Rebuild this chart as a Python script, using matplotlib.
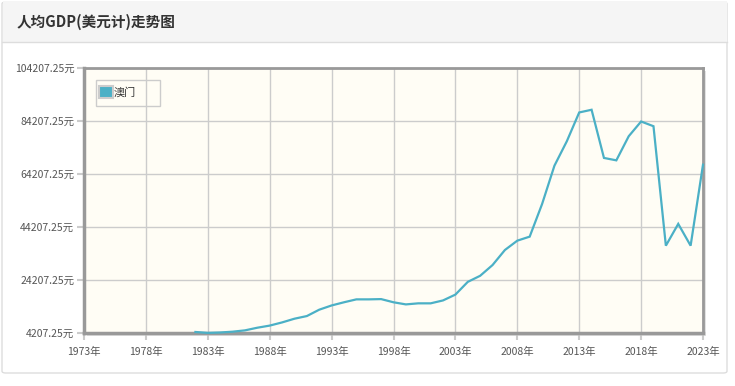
import matplotlib
matplotlib.use("Agg")
import matplotlib.pyplot as plt
from matplotlib.patches import Rectangle, FancyBboxPatch, Patch

plt.rcParams['font.family'] = ['Noto Sans CJK SC', 'DejaVu Sans']

title = "人均GDP(美元计)走势图"
series_name = "澳门"
years = list(range(1982, 2024))
values = [4590, 4250, 4400, 4700, 5200, 6200, 7000, 8200, 9600, 10600,
          13000, 14600, 15800, 16900, 16900, 17000, 15800, 15000, 15400, 15400,
          16500, 18700, 23500, 25800, 29850, 35530, 39050, 40570, 52850, 67350,
          76560, 87430, 88450, 70270, 69360, 78460, 84020, 82240, 37160, 45380,
          37160, 67730]
y_ticks = [4207.25, 24207.25, 44207.25, 64207.25, 84207.25, 104207.25]
x_ticks = [1973, 1978, 1983, 1988, 1993, 1998, 2003, 2008, 2013, 2018, 2023]

W, H = 735, 386
fig = plt.figure(figsize=(W/100, H/100), dpi=100)
fig.patch.set_facecolor('white')

def fx(px): return px / W
def fy(py): return 1 - py / H

# outer panel
panel = FancyBboxPatch((fx(2), fy(373)), fx(725), 371/H, boxstyle="round,pad=0,rounding_size=0.005",
                       transform=fig.transFigure, facecolor='white', edgecolor='#dddddd', lw=1, zorder=-10)
fig.patches.append(panel)
header = Rectangle((fx(2.5), fy(42)), fx(724), 41/H, transform=fig.transFigure,
                   facecolor='#f5f5f5', edgecolor='none', zorder=-9)
fig.patches.append(header)
fig.add_artist(plt.Line2D([fx(2), fx(727)], [fy(42), fy(42)], transform=fig.transFigure,
                          color='#dddddd', lw=1, zorder=-8))
fig.text(fx(17), fy(22), title, fontsize=10.5, fontweight='bold', color='#333333',
         va='center', ha='left')

L, R, T, B = 84, 703, 68, 333
# shadow
shadow = Rectangle((fx(L+3), fy(B+3)), fx(R-L), (B-T)/H, transform=fig.transFigure,
                   facecolor='#e2e2e2', edgecolor='none', zorder=-5)
fig.patches.append(shadow)

ax = fig.add_axes([fx(L), fy(B), fx(R-L), (B-T)/H])
ax.set_facecolor('#fffdf5')
ax.plot(years, values, color='#4bb0c6', lw=1.6, solid_joinstyle='miter', clip_on=False, zorder=3)
ax.set_xlim(1973, 2023)
ax.set_ylim(4207.25, 104207.25)
ax.set_xticks(x_ticks)
ax.set_xticklabels([f"{y}年" for y in x_ticks])
ax.set_yticks(y_ticks)
ax.set_yticklabels([f"{v:.2f}元" for v in y_ticks])
ax.grid(True, color='#cccccc', lw=1)
ax.set_axisbelow(True)
for s in ['left', 'bottom']:
    ax.spines[s].set_color('#999999')
    ax.spines[s].set_linewidth(2.5)
for s in ['right', 'top']:
    ax.spines[s].set_color('#999999')
    ax.spines[s].set_linewidth(2)
ax.tick_params(axis='both', colors='#cccccc', labelcolor='#555555', labelsize=7.5, length=5, width=1.5)
ax.tick_params(axis='x', pad=5)
ax.tick_params(axis='y', pad=2)

# legend
leg_box = Rectangle((fx(96), fy(106)), fx(64), 26/H, transform=fig.transFigure,
                    facecolor='none', edgecolor='#cccccc', lw=1, zorder=5)
fig.patches.append(leg_box)
leg = ax.legend(handles=[Patch(facecolor='#4bb0c6', edgecolor='#cccccc', lw=1.5, label=series_name)],
                loc='upper left', bbox_to_anchor=((97 - L) / (R - L), 1 - (84 - T) / (B - T)),
                frameon=False, handlelength=1.2, handleheight=1.2,
                handletextpad=0.1, borderaxespad=0, borderpad=0.2,
                prop={'size': 8})
for t in leg.get_texts():
    t.set_color('#333333')

fig.savefig('out.png', dpi=100, facecolor='white')
